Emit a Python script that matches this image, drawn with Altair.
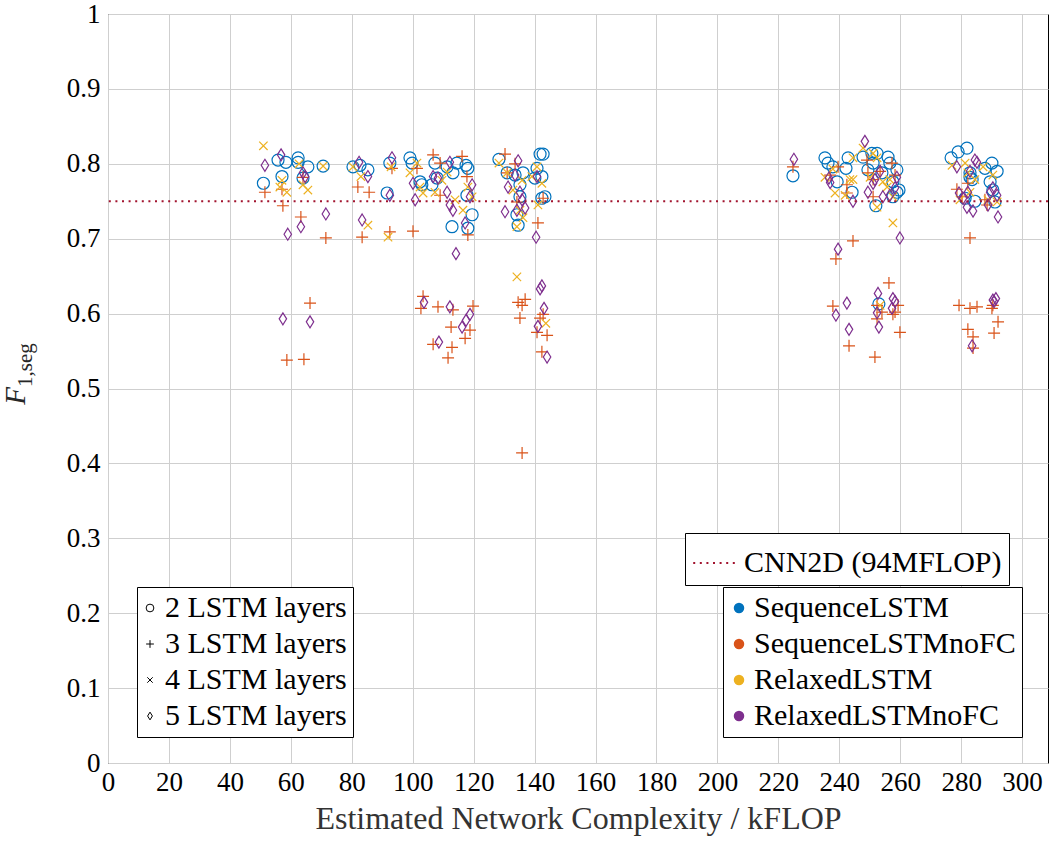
import altair as alt
import pandas as pd

# Model variants, their colours and the LSTM depth used by each
MODELS = ["SequenceLSTM", "SequenceLSTMnoFC", "RelaxedLSTM", "RelaxedLSTMnoFC"]
COLORS = ["#0072BD", "#D95319", "#EDB120", "#7E2F8E"]
LAYER_LABELS = ["2 LSTM layers", "3 LSTM layers", "4 LSTM layers", "5 LSTM layers"]
MODEL_LAYERS = ["2 LSTM layers", "3 LSTM layers", "4 LSTM layers", "5 LSTM layers"]

# Reference network
CNN_LABEL = "CNN2D (94MFLOP)"
CNN_F1 = [0.75]

# SequenceLSTM: complexity (kFLOP) and F1,seg
seq_x = [51.0, 55.8, 58.4, 62.4, 62.4, 65.6, 70.6, 57.1, 64.0,
         80.4, 82.7, 85.3, 92.5, 91.6, 99.1, 99.8, 102.4, 103.0, 107.3, 108.0, 106.3,
         111.3, 113.2, 114.5, 117.5, 118.1, 117.8, 119.5, 112.9, 118.1,
         128.3, 131.0, 133.6, 136.2, 135.2, 135.2, 134.2, 134.6, 141.8, 142.8, 140.8,
         142.4, 143.4, 142.4, 140.1,
         224.8, 235.3, 236.3, 237.9, 239.3, 242.2, 242.9, 244.2, 247.8, 249.4, 250.7,
         252.4, 251.1, 252.0, 256.0, 256.6, 258.9, 257.6, 258.9, 259.6, 257.6, 254.0, 253.0,
         276.7, 279.0, 281.9, 282.9, 283.6, 282.9, 284.5, 287.8, 290.1, 291.8, 289.5,
         290.4, 291.1, 281.3]
seq_y = [0.774, 0.805, 0.802, 0.808, 0.802, 0.796, 0.797, 0.783, 0.781,
         0.796, 0.798, 0.792, 0.801, 0.761, 0.808, 0.801, 0.776, 0.772, 0.801, 0.781, 0.772,
         0.796, 0.788, 0.801, 0.798, 0.794, 0.758, 0.732, 0.716, 0.714,
         0.806, 0.788, 0.785, 0.788, 0.772, 0.756, 0.732, 0.718, 0.813, 0.813, 0.794,
         0.783, 0.756, 0.754, 0.781,
         0.784, 0.808, 0.801, 0.796, 0.776, 0.794, 0.808, 0.762, 0.809, 0.792, 0.814,
         0.814, 0.801, 0.744, 0.809, 0.801, 0.792, 0.776, 0.762, 0.765, 0.756, 0.788, 0.613,
         0.808, 0.816, 0.821, 0.782, 0.779, 0.788, 0.750, 0.794, 0.801, 0.790, 0.776,
         0.765, 0.749, 0.754]

# SequenceLSTMnoFC
seqnofc_x = [51.5, 57.1, 57.4, 63.3, 71.5, 66.3, 58.7, 64.3, 64.0,
             82.0, 85.7, 92.5, 100.1, 83.4, 93.2, 106.7, 116.2, 101.4, 109.0, 118.1, 117.8, 109.0,
             103.4, 102.7, 108.3, 113.2, 119.8, 112.6, 118.8, 117.2, 106.7, 112.9, 111.6,
             130.3, 133.6, 131.0, 134.2, 142.8, 141.1,
             134.6, 136.9, 135.9, 135.2, 141.8, 142.8, 140.8, 144.1, 142.4, 135.9,
             224.8, 239.6, 237.0, 242.5, 249.1, 249.4, 251.1, 253.4, 257.3, 258.3, 251.1, 242.5,
             244.5, 238.9, 256.3, 237.9, 252.4, 254.0, 252.4, 259.3, 258.3, 257.6, 259.9,
             243.2, 251.7,
             278.6, 282.2, 288.5, 287.8, 282.9, 280.3,
             279.3, 282.9, 285.2, 290.1, 292.1, 290.8, 282.2, 283.9, 283.9, 290.4]
seqnofc_y = [0.762, 0.766, 0.744, 0.729, 0.701, 0.614, 0.538, 0.539, 0.782,
             0.769, 0.762, 0.709, 0.710, 0.702, 0.794, 0.812, 0.810, 0.794, 0.758, 0.705, 0.783, 0.801,
             0.623, 0.607, 0.609, 0.605, 0.610, 0.582, 0.578, 0.567, 0.559, 0.555, 0.541,
             0.813, 0.800, 0.788, 0.749, 0.754, 0.721,
             0.615, 0.619, 0.611, 0.594, 0.594, 0.599, 0.575, 0.571, 0.549, 0.414,
             0.796, 0.796, 0.785, 0.772, 0.805, 0.788, 0.779, 0.790, 0.801, 0.785, 0.756, 0.761,
             0.697, 0.673, 0.641, 0.610, 0.611, 0.602, 0.593, 0.611, 0.602, 0.599, 0.575,
             0.557, 0.542,
             0.766, 0.774, 0.745, 0.752, 0.701, 0.756,
             0.611, 0.607, 0.609, 0.607, 0.589, 0.574, 0.579, 0.569, 0.554, 0.611]

# RelaxedLSTM
rel_x = [51.0, 62.7, 57.1, 58.7, 64.0, 65.6, 56.4, 70.6,
         80.4, 83.0, 85.3, 91.9, 92.9, 99.1, 101.4, 103.4, 102.4, 107.3, 109.6, 111.3,
         113.9, 116.5, 118.1, 119.5,
         134.2, 143.7,
         128.3, 131.0, 135.9, 139.1, 140.8, 142.4, 141.1, 135.2, 136.2, 134.2, 132.9,
         235.3, 237.9, 238.6, 241.9, 243.5, 244.5, 247.8, 251.1, 252.4, 250.1, 254.3,
         256.6, 255.7, 257.6, 252.4, 257.6, 244.5, 253.4,
         277.0, 281.3, 282.2, 284.5, 287.2, 290.4, 291.8, 288.8, 282.9, 279.6]
rel_y = [0.824, 0.800, 0.778, 0.762, 0.772, 0.765, 0.769, 0.797,
         0.796, 0.783, 0.718, 0.702, 0.796, 0.788, 0.801, 0.761, 0.769, 0.762, 0.778, 0.789,
         0.752, 0.738, 0.769, 0.756,
         0.649, 0.587,
         0.801, 0.788, 0.778, 0.783, 0.796, 0.774, 0.745, 0.738, 0.728, 0.716, 0.765,
         0.782, 0.793, 0.761, 0.758, 0.779, 0.779, 0.821, 0.814, 0.808, 0.782, 0.776,
         0.779, 0.769, 0.756, 0.742, 0.721, 0.808, 0.611,
         0.798, 0.801, 0.788, 0.779, 0.796, 0.785, 0.749, 0.752, 0.762, 0.752]

# RelaxedLSTMnoFC
relnofc_x = [56.8, 51.5, 64.0, 64.7, 71.5, 63.3, 59.0, 57.4, 66.3,
             82.4, 85.3, 93.2, 92.5, 83.4, 100.8, 100.1, 106.7, 108.3, 112.2, 111.3, 112.2,
             113.2, 117.2, 119.5, 118.8, 114.2,
             103.7, 112.2, 118.8, 117.5, 116.2, 108.6,
             134.6, 133.6, 131.3, 135.2, 135.9, 136.9, 134.2, 130.3, 140.8, 140.5,
             142.4, 141.8, 143.1, 141.1, 144.1,
             225.1, 248.4, 236.6, 237.0, 244.5, 249.4, 251.1, 251.7, 254.3, 256.6, 258.3,
             258.9, 253.4, 259.9,
             239.6, 242.5, 238.9, 243.2, 252.7, 252.4, 253.0, 257.6, 258.3, 257.3,
             278.6, 284.5, 285.2, 282.9, 282.2, 279.3, 280.6, 281.9, 283.9, 290.4, 289.5,
             291.8, 292.1, 288.8,
             290.4, 291.4, 290.8, 283.6]
relnofc_y = [0.812, 0.798, 0.788, 0.783, 0.733, 0.716, 0.706, 0.593, 0.589,
             0.802, 0.783, 0.808, 0.758, 0.725, 0.752, 0.774, 0.783, 0.781, 0.802, 0.762, 0.745,
             0.738, 0.721, 0.772, 0.756, 0.680,
             0.615, 0.609, 0.599, 0.591, 0.582, 0.562,
             0.804, 0.785, 0.769, 0.762, 0.752, 0.741, 0.738, 0.736, 0.783, 0.702,
             0.637, 0.633, 0.607, 0.583, 0.542,
             0.806, 0.830, 0.781, 0.775, 0.750, 0.762, 0.774, 0.779, 0.756, 0.758, 0.768,
             0.782, 0.790, 0.701,
             0.686, 0.614, 0.598, 0.579, 0.627, 0.601, 0.582, 0.620, 0.616, 0.607,
             0.796, 0.805, 0.802, 0.790, 0.762, 0.761, 0.754, 0.742, 0.737, 0.768, 0.762,
             0.758, 0.729, 0.745,
             0.618, 0.620, 0.616, 0.557]

X_TICKS = list(range(0, 301, 20))
Y_TICKS = [i / 10 for i in range(11)]

FONT = "Liberation Serif"

series = [(seq_x, seq_y), (seqnofc_x, seqnofc_y), (rel_x, rel_y), (relnofc_x, relnofc_y)]
frames = []
for model, layers, (xs, ys) in zip(MODELS, MODEL_LAYERS, series):
    frames.append(pd.DataFrame({"kflop": xs, "f1": ys, "model": model, "layers": layers}))
points = pd.concat(frames, ignore_index=True)

# Marker outlines on a [-1, 1] box: circle, plus, cross, tall diamond
SHAPES = ["circle",
          "M-1,0L1,0M0,-1L0,1",
          "M-0.7,-0.7L0.7,0.7M-0.7,0.7L0.7,-0.7",
          "M0,-1L0.62,0L0,1L-0.62,0Z"]

legend_box = dict(title=None, orient="none", labelFontSize=30, labelLimit=0,
                  strokeColor="black", fillColor="white", cornerRadius=0)

x_enc = alt.X("kflop:Q", title="Estimated Network Complexity / kFLOP",
              scale=alt.Scale(domain=[0, 308.5], nice=False, zero=False),
              axis=alt.Axis(values=X_TICKS, labelFontSize=27, labelPadding=6, labelFlush=False,
                            titleFontSize=32, titlePadding=8, titleColor="#333333",
                            titleFontWeight="normal"))
y_enc = alt.Y("f1:Q", title=None,
              scale=alt.Scale(domain=[0, 1], nice=False),
              axis=alt.Axis(values=Y_TICKS, format="~g", labelFontSize=27, labelPadding=8,
                            labelFlush=False))

scatter = alt.Chart(points).mark_point(filled=False, size=144, strokeWidth=1.2, opacity=1).encode(
    x=x_enc,
    y=y_enc,
    stroke=alt.Stroke("model:N", scale=alt.Scale(domain=MODELS, range=COLORS), legend=None),
    shape=alt.Shape("layers:N", scale=alt.Scale(domain=LAYER_LABELS, range=SHAPES),
                    legend=alt.Legend(legendX=29, legendY=573,
                                      symbolStrokeColor="black", symbolFillColor="transparent",
                                      symbolSize=60, symbolStrokeWidth=1,
                                      symbolOffset=-8, labelOffset=0,
                                      rowPadding=6, padding=6, **legend_box)),
)

# Filled-dot legend for the model colours
color_key = alt.Chart(points).mark_circle(size=110, opacity=0).encode(
    x="kflop:Q",
    y="f1:Q",
    color=alt.Color("model:N", scale=alt.Scale(domain=MODELS, range=COLORS),
                    legend=alt.Legend(legendX=615, legendY=573,
                                      symbolType="circle", symbolSize=110, symbolOpacity=1,
                                      symbolOffset=-5, labelOffset=0,
                                      rowPadding=6, padding=6, **legend_box)),
)

ref = pd.DataFrame({"f1": CNN_F1, "ref": [CNN_LABEL]})
cnn_line = alt.Chart(ref).mark_rule(color="#A2142F", strokeWidth=2).encode(
    y="f1:Q",
    strokeDash=alt.StrokeDash("ref:N", scale=alt.Scale(domain=[CNN_LABEL], range=[[2, 4.6]]),
                              legend=alt.Legend(legendX=577, legendY=519,
                                                symbolType="stroke", symbolSize=1900,
                                                symbolStrokeColor="#A2142F", symbolStrokeWidth=2,
                                                padding=7, labelOffset=6, **legend_box)),
)

# Y-axis title F_{1,seg}, drawn as main letter plus subscript
title_main = alt.Chart(pd.DataFrame({"t": ["F"]})).mark_text(
    angle=270, align="center", baseline="alphabetic", fontSize=29, fontStyle="italic",
    font=FONT, color="#262626").encode(x=alt.value(-83), y=alt.value(382), text="t:N")
title_sub = alt.Chart(pd.DataFrame({"t": ["1,seg"]})).mark_text(
    angle=270, align="center", baseline="alphabetic", fontSize=21,
    font=FONT, color="#262626").encode(x=alt.value(-76), y=alt.value(351), text="t:N")

chart = alt.layer(color_key, scatter, cnn_line, title_main, title_sub).resolve_scale(
    color="independent", stroke="independent"
).properties(
    width=940, height=749,
    autosize=alt.AutoSizeParams(type="none"),
    padding={"left": 108, "top": 14, "right": 1, "bottom": 82},
).configure(
    font=FONT,
).configure_view(
    stroke="black", strokeWidth=1,
).configure_axis(
    grid=True, gridColor="#cfcfcf", gridWidth=1, domain=False, ticks=False,
    labelColor="black", labelFont=FONT, titleFont=FONT,
).configure_legend(
    labelFont=FONT, labelColor="black",
)

chart.save("out.html", embed_options={"renderer": "svg", "actions": False})
